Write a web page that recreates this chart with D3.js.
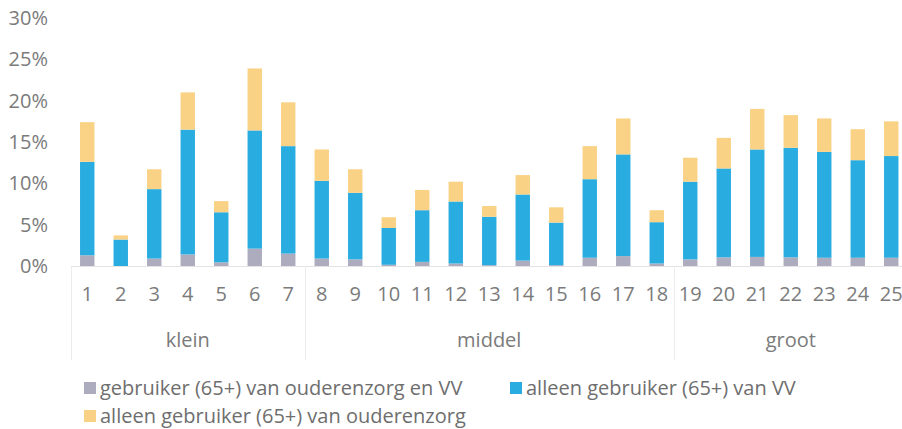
<!DOCTYPE html>
<html>
<head>
<meta charset="utf-8">
<script src="https://cdn.jsdelivr.net/npm/d3@7"></script>
<style>
  html, body { margin: 0; padding: 0; background: #fff; }
  svg { display: block; font-family: "Open Sans", sans-serif; }
</style>
</head>
<body>
<div id="chart"></div>
<script>
// Stacked bars per region number, grouped by size class
const CATS = d3.range(1, 26).map(String);
const GROUPS = [
  { name: "klein",  from: "1",  to: "7"  },
  { name: "middel", from: "8",  to: "18" },
  { name: "groot",  from: "19", to: "25" },
];
const SERIES = ["both", "vv", "oz"];
const SERIES_LABELS = [
  "gebruiker (65+) van ouderenzorg en VV",
  "alleen gebruiker (65+) van VV",
  "alleen gebruiker (65+) van ouderenzorg",
];
const COLORS = ["#adacbf", "#29ace0", "#fad286"];

// values in %
const BOTH = [1.3, 0, 0.9, 1.4, 0.45, 2.1, 1.5, 0.9, 0.8, 0.15, 0.5, 0.3, 0.1,
              0.65, 0.1, 1.0, 1.2, 0.3, 0.8, 1.05, 1.1, 1.05, 1.0, 1.0, 1.0];
const VV   = [11.3, 3.2, 8.4, 15.1, 6.05, 14.3, 13.0, 9.4, 8.05, 4.45, 6.25, 7.5, 5.85,
              8.0, 5.15, 9.5, 12.3, 5.0, 9.4, 10.75, 13.0, 13.25, 12.8, 11.8, 12.3];
const OZ   = [4.8, 0.5, 2.4, 4.5, 1.35, 7.5, 5.3, 3.8, 2.85, 1.3, 2.45, 2.4, 1.3,
              2.35, 1.85, 4.0, 4.35, 1.45, 2.9, 3.7, 4.9, 3.95, 4.05, 3.75, 4.2];
const Y_TICKS = [0, 5, 10, 15, 20, 25, 30];

const rows = CATS.map((c, i) => ({ cat: c, both: BOTH[i], vv: VV[i], oz: OZ[i] }));

const W = 902, H = 429;
const FS = 20;
const svg = d3.select("#chart").append("svg").attr("width", W).attr("height", H);

/* scales */
const x = d3.scaleBand().domain(CATS).range([70.5, 908])
  .paddingInner(0.57).paddingOuter(0.285);
const y = d3.scaleLinear().domain([0, 30]).range([266, 18]);
const step = x.step();
const bandLeft = c => x(c) - x.paddingOuter() * step;

/* baseline */
svg.append("line")
  .attr("x1", x.range()[0]).attr("x2", W)
  .attr("y1", y(0) + 0.5).attr("y2", y(0) + 0.5)
  .attr("stroke", "#e3e3e3").attr("stroke-width", 1);

/* group separators */
const seps = [bandLeft("1"), bandLeft("8"), bandLeft("19")];
svg.selectAll("line.sep").data(seps).join("line")
  .attr("class", "sep")
  .attr("x1", d => Math.round(d) + 0.5).attr("x2", d => Math.round(d) + 0.5)
  .attr("y1", y(0)).attr("y2", 360)
  .attr("stroke", "#ececec").attr("stroke-width", 1);

/* y axis */
svg.append("g").attr("transform", "translate(48,0)")
  .call(d3.axisLeft(y).tickValues(Y_TICKS).tickSize(0).tickPadding(0).tickFormat(d => d + "%"))
  .call(ax => ax.select(".domain").remove())
  .selectAll("text")
  .attr("font-family", "Open Sans, sans-serif")
  .attr("font-size", FS).attr("fill", "#7b7b7b");

/* bars */
const stacked = d3.stack().keys(SERIES)(rows);
svg.append("g").selectAll("g").data(stacked).join("g")
  .attr("fill", (d, i) => COLORS[i])
  .selectAll("rect").data(d => d).join("rect")
  .attr("x", d => x(d.data.cat))
  .attr("width", x.bandwidth())
  .attr("y", d => y(d[1]))
  .attr("height", d => Math.max(0, y(d[0]) - y(d[1])));

/* category labels */
svg.append("g").attr("transform", `translate(0,${y(0)})`)
  .call(d3.axisBottom(x).tickSize(0).tickPadding(21))
  .call(ax => ax.select(".domain").remove())
  .selectAll("text")
  .attr("font-family", "Open Sans, sans-serif")
  .attr("font-size", FS).attr("fill", "#7b7b7b");

/* group labels */
svg.append("g").selectAll("text").data(GROUPS).join("text")
  .attr("x", g => (bandLeft(g.from) + bandLeft(g.to) + step) / 2)
  .attr("y", 340).attr("dy", "0.35em")
  .attr("text-anchor", "middle")
  .attr("font-size", FS).attr("fill", "#7b7b7b")
  .text(g => g.name);

/* legend */
const LEG_POS = [[84, 388], [510, 388], [84, 416]];
const leg = svg.append("g").selectAll("g").data(SERIES_LABELS).join("g")
  .attr("transform", (d, i) => `translate(${LEG_POS[i][0]},${LEG_POS[i][1]})`);
leg.append("rect").attr("x", 0).attr("y", -6).attr("width", 12).attr("height", 12)
  .attr("fill", (d, i) => COLORS[i]);
leg.append("text").attr("x", 16).attr("y", 0).attr("dy", "0.35em")
  .attr("font-size", FS).attr("fill", "#6e6e6e")
  .text(d => d);
</script>
</body>
</html>
